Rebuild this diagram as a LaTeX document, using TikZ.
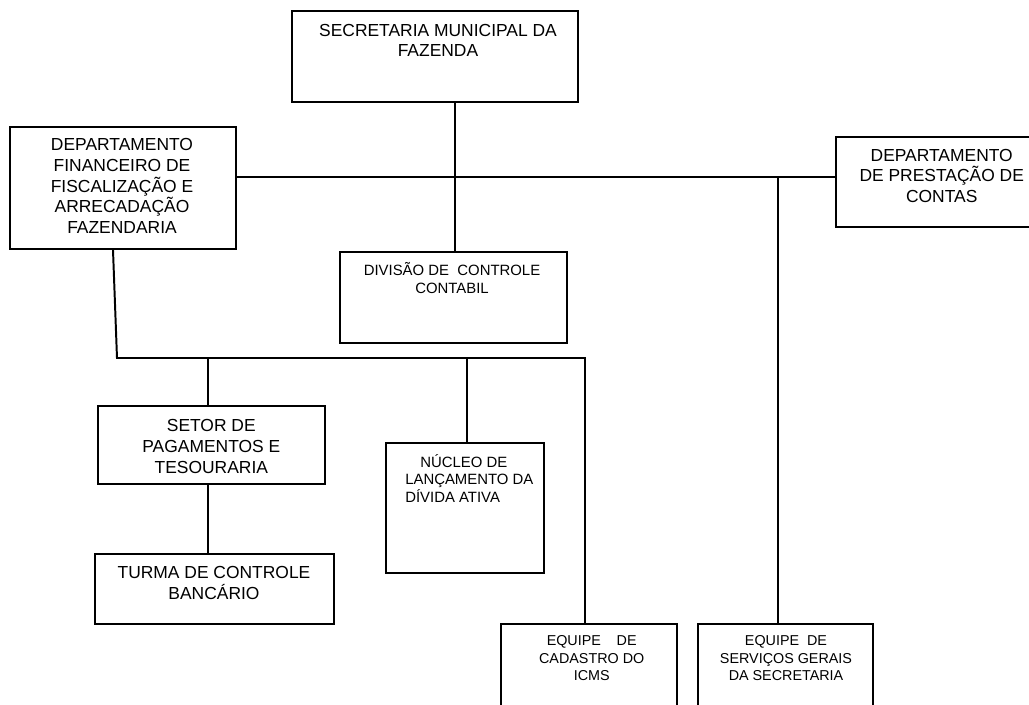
\documentclass[tikz,border=0pt]{standalone}
\usepackage{fontspec}
\setmainfont{Liberation Sans}

\newcommand{\letraG}{\fontsize{12.4}{14.8}\selectfont}
\newcommand{\letraM}{\fontsize{10.6}{12.6}\selectfont}
\newcommand{\letraP}{\fontsize{10.2}{12.6}\selectfont}

\tikzset{
  caixa/.style 2 args={draw, line width=1.4pt, inner sep=0pt,
    minimum width=#1*0.025cm, minimum height=#2*0.025cm},
  texto/.style={anchor=north, inner sep=0pt, align=center,
    execute at begin node=\strut},
  liga/.style={line width=1.4pt}
}

\begin{document}
\begin{tikzpicture}[x=0.025cm,y=-0.025cm]
  \useasboundingbox (0,0) rectangle (1029,704);
  \clip (0,0) rectangle (1029,704);

  % caixas
  \node[caixa={286}{91}]  (sec)   at (435,56.5)  {};
  \node[caixa={226}{122}] (fin)   at (123,188)   {};
  \node[caixa={209}{90}]  (prest) at (940.5,182) {};
  \node[caixa={227}{91}]  (div)   at (453.5,297.5) {};
  \node[caixa={227}{78}]  (set)   at (211.5,445) {};
  \node[caixa={239}{70}]  (turma) at (214.5,589) {};
  \node[caixa={158}{130}] (nuc)   at (465,508)   {};
  \node[caixa={176}{106}] (cad)   at (589,677)   {};
  \node[caixa={175}{106}] (serv)  at (785.5,677) {};

  % textos
  \node[texto, font=\letraG] (t-sec) at (438,23.6) {SECRETARIA MUNICIPAL DA\\FAZENDA};
  \node[texto, font=\letraG] (t-fin) at (122,138) {DEPARTAMENTO\\FINANCEIRO DE\\FISCALIZAÇÃO E\\ARRECADAÇÃO\\FAZENDARIA};
  \node[texto, font=\letraG] (t-prest) at (941.7,148.6) {DEPARTAMENTO\\DE PRESTAÇÃO DE\\CONTAS};
  \node[texto, font=\letraM] (t-div) at (452,262.4) {DIVISÃO DE\ \ CONTROLE\\CONTABIL};
  \node[texto, font=\letraG] (t-set) at (211.3,419) {SETOR DE\\PAGAMENTOS E\\TESOURARIA};
  \node[texto, font=\letraG] (t-turma) at (214,566.3) {TURMA DE CONTROLE\\BANCÁRIO};
  \node[texto, anchor=north west, align=left, font=\letraM] (t-nuc) at (405,454) {\hspace*{10.7pt}NÚCLEO DE\\LANÇAMENTO DA\\DÍVIDA ATIVA};
  \node[texto, font=\letraP] (t-cad) at (591.7,635) {EQUIPE\hspace{1.1em}DE\\CADASTRO DO\\ICMS};
  \node[texto, font=\letraP] (t-serv) at (786,635) {EQUIPE\ \ DE\\SERVIÇOS GERAIS\\DA SECRETARIA};

  % ligacoes
  \coordinate (eixo) at (455,177);
  \coordinate (ramoS) at (778,177);
  \coordinate (desce) at (113,249);
  \coordinate (barraA) at (117,358);
  \coordinate (barraB) at (585,358);
  \coordinate (r1) at (208,358);
  \coordinate (r2) at (467,358);

  \draw[liga] (eixo |- sec.south) -- (eixo |- div.north);
  \draw[liga] (eixo -| fin.east) -- (eixo -| prest.west);
  \draw[liga] (ramoS) -- (ramoS |- serv.north);
  \draw[liga] (desce |- fin.south) -- (barraA) -- (barraB) -- (barraB |- cad.north);
  \draw[liga] (r1) -- (r1 |- set.north);
  \draw[liga] (r1 |- set.south) -- (r1 |- turma.north);
  \draw[liga] (r2) -- (r2 |- nuc.north);
\end{tikzpicture}
\end{document}
